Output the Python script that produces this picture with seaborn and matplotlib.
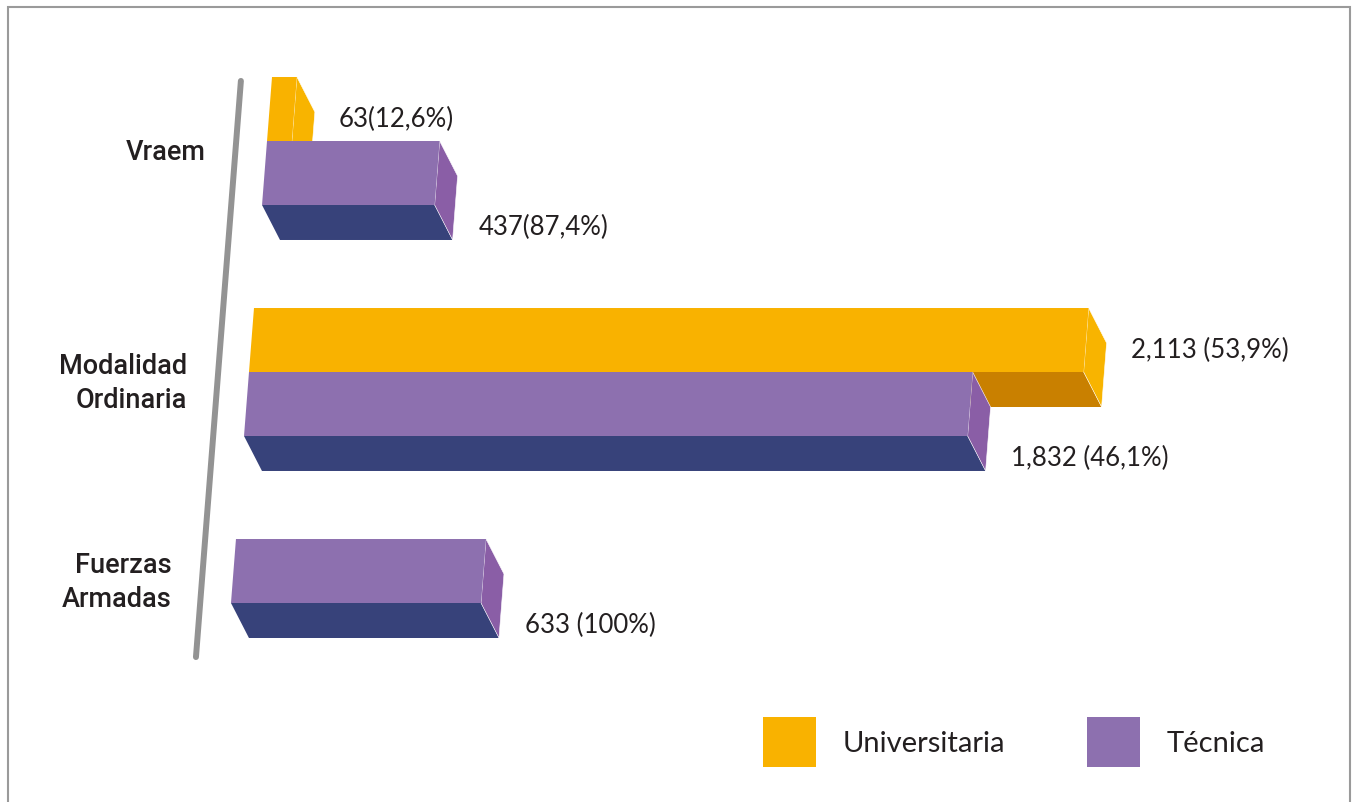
import math
import numpy as np
import pandas as pd
import matplotlib
matplotlib.use('Agg')
import matplotlib.pyplot as plt
import seaborn as sns
from matplotlib.patches import Polygon, Rectangle, Patch
from matplotlib.transforms import Affine2D

# datos
categorias = ['Vraem', 'Modalidad\nOrdinaria', 'Fuerzas\nArmadas']
series = ['Universitaria', 'Técnica']
universitaria = [63, 2113, None]
tecnica = [437, 1832, 633]
etiq_univ = ['63(12,6%)', '2,113 (53,9%)', '']
etiq_tec = ['437(87,4%)', '1,832 (46,1%)', '633 (100%)']

# colores: frente, lado, base
colores = {'Universitaria': ('#F9B200', '#F8B400', '#C98000'),
           'Técnica': ('#8D70AF', '#8A5EA6', '#37427A')}
texto = '#231F20'

filas = []
for i, cat in enumerate(categorias):
    if universitaria[i] is not None:
        filas.append({'categoria': cat, 'serie': 'Universitaria', 'valor': universitaria[i], 'etiqueta': etiq_univ[i]})
    filas.append({'categoria': cat, 'serie': 'Técnica', 'valor': tecnica[i], 'etiqueta': etiq_tec[i]})
df = pd.DataFrame(filas)
n_series = df.groupby('categoria').size()

sns.set_theme(style='white')
plt.rcParams['font.family'] = ['Lato', 'DejaVu Sans']

W, H, DPI = 1353, 803, 100
fig = plt.figure(figsize=(W / DPI, H / DPI), dpi=DPI)
ax = fig.add_axes([0, 0, 1, 1])

# escala en pixeles
escala = 0.395   # px por unidad
x0 = 249         # px del valor 0
paso = 231       # px entre categorias
y_cat0 = 142     # px de la primera categoria
y_piv = H - 373  # pivote de la inclinacion (display)
k = 0.078        # inclinacion
alto = 0.554     # alto del grupo de barras

sns.barplot(data=df, x='valor', y='categoria', hue='serie', hue_order=series, order=categorias,
            palette=[colores[s][0] for s in series], width=alto, orient='h', errorbar=None,
            saturation=1, linewidth=0, legend=False, ax=ax)

ax.set_xlim(-x0 / escala, (W - x0) / escala)
ax.set_ylim((H - y_cat0) / paso, -y_cat0 / paso)
ax.set_axis_off()

sesgo = Affine2D().translate(0, -y_piv).skew(math.atan(k), 0).translate(0, y_piv)
trans = ax.transData + sesgo

# profundidad 3D
dx = 20.7 / escala
dy = 35 / paso

extremos = {}
for serie, cont in zip(series, ax.containers):
    frente, lado, base = colores[serie]
    z = 2 if serie == 'Universitaria' else 3
    sub = df[df['serie'] == serie]
    for bar in cont:
        w = bar.get_width()
        if np.isnan(w) or w == 0:
            continue
        h = bar.get_height()
        cat = int(round(bar.get_y() + h / 2))
        if n_series[categorias[cat]] == 1:
            # una sola serie: ocupa la posicion superior
            bar.set_y(cat - h)
        y_top = bar.get_y()
        y_bot = y_top + h
        lo, hi = extremos.get(cat, (y_top, y_bot))
        extremos[cat] = (min(lo, y_top), max(hi, y_bot))
        bar.set_transform(trans)
        bar.set_zorder(z)
        ax.add_patch(Polygon([(0, y_bot), (w, y_bot), (w + dx, y_bot + dy), (dx, y_bot + dy)],
                             closed=True, facecolor=base, edgecolor='none', transform=trans, zorder=z - 0.1))
        ax.add_patch(Polygon([(w, y_top), (w + dx, y_top + dy), (w + dx, y_bot + dy), (w, y_bot)],
                             closed=True, facecolor=lado, edgecolor='#ffffff', linewidth=0.4,
                             transform=trans, zorder=z - 0.05))
        etiqueta = sub[sub['categoria'] == categorias[cat]]['etiqueta'].iloc[0]
        dy_lab = 0.04 if serie == 'Universitaria' else 0.23
        ax.text(w + 115, y_top + h / 2 + dy_lab, etiqueta, ha='left', va='center',
                fontsize=18.5, color=texto, transform=trans, zorder=5)

# eje vertical
ax.plot([-78, -78], [-0.260, 2.234], color='#939393', lw=4.3, solid_capstyle='round',
        transform=trans, zorder=1)

# etiquetas de categorias
for i, cat in enumerate(categorias):
    lo, hi = extremos[i]
    ax.text(-154, (lo + hi) / 2 + 0.045, cat, ha='right', va='center', multialignment='right',
            fontsize=19.5, family=['Roboto', 'DejaVu Sans'], fontweight='medium', color=texto,
            linespacing=1.3, transform=trans)

# leyenda
manejadores = [Patch(facecolor=colores[s][0], edgecolor='none', label=s) for s in series]
fig.legend(handles=manejadores, loc='center left', bbox_to_anchor=(763 / W, 1 - 743 / H),
           ncol=2, frameon=False, fontsize=21, handlelength=1.82, handleheight=2.3,
           handletextpad=0.92, columnspacing=2.8, borderpad=0, borderaxespad=0,
           labelcolor=texto)

# marco
fig.patches.append(Rectangle((8 / W, -0.1), (1350 - 8) / W, (H - 8) / H + 0.1,
                             transform=fig.transFigure, fill=False, edgecolor='#9a9a9a', lw=1.5))

fig.savefig('out.png', dpi=DPI)
